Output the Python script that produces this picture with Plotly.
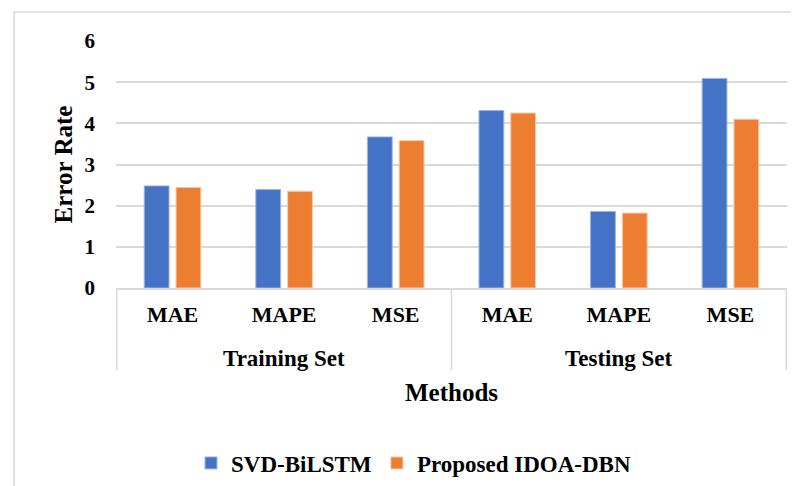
import plotly.graph_objects as go

groups = ["Training Set", "Training Set", "Training Set", "Testing Set", "Testing Set", "Testing Set"]
metrics = ["MAE", "MAPE", "MSE", "MAE", "MAPE", "MSE"]
svd_bilstm = [2.48, 2.39, 3.67, 4.31, 1.86, 5.09]
idoa_dbn = [2.44, 2.35, 3.58, 4.25, 1.82, 4.10]
series_names = ["SVD-BiLSTM", "Proposed IDOA-DBN"]
y_ticks = [0, 1, 2, 3, 4, 5, 6]

FONT = "Liberation Serif, Times New Roman, serif"
GRID = "#d9d9d9"

# unique category ids, shown with metric names
cat_ids = [f"{g}|{m}" for g, m in zip(groups, metrics)]

fig = go.Figure()
fig.add_trace(go.Bar(
    x=cat_ids, y=svd_bilstm, name=series_names[0],
    marker=dict(color="#4472C4", line=dict(color="#9db4e0", width=1)),
))
fig.add_trace(go.Bar(
    x=cat_ids, y=idoa_dbn, name=series_names[1],
    marker=dict(color="#ED7D31", line=dict(color="#f7c9a8", width=1)),
))

# group labels and dividers derived from the group list
annotations = []
shapes = []
group_order = []
for g in groups:
    if g not in group_order:
        group_order.append(g)
divider_depth = -82 / 247  # in paper units below the axis
boundaries = [-0.5]
for g in group_order:
    idx = [i for i, gg in enumerate(groups) if gg == g]
    center = (idx[0] + idx[-1]) / 2
    annotations.append(dict(
        x=center, y=-70 / 247, xref="x", yref="paper", text=g, showarrow=False,
        yanchor="middle", font=dict(family=FONT, size=23, color="black", weight="bold"),
    ))
    boundaries.append(idx[-1] + 0.5)
for b in boundaries:
    shapes.append(dict(type="line", xref="x", yref="paper", x0=b, x1=b, y0=0, y1=divider_depth,
                       line=dict(color=GRID, width=1.5)))

annotations.append(dict(
    x=0.5, y=-104 / 247, xref="paper", yref="paper", text="Methods", showarrow=False,
    yanchor="middle", font=dict(family=FONT, size=25, color="black", weight="bold"),
))

shapes.append(dict(type="rect", xref="paper", yref="paper",
                   x0=-102 / 671, x1=1.05, y0=-1.2, y1=(288 - 12) / 247,
                   line=dict(color="#d9d9d9", width=1.5), fillcolor="rgba(0,0,0,0)", layer="below"))

fig.update_layout(
    width=791, height=478,
    margin=dict(l=108, r=12, t=33, b=198, autoexpand=False),
    paper_bgcolor="white", plot_bgcolor="white",
    barmode="group", bargap=0.43, bargroupgap=0.22,
    font=dict(family=FONT, color="black", size=22),
    showlegend=True,
    legend=dict(orientation="h", x=(191 - 116) / 671, xanchor="left",
                y=-(463 - 288) / 247, yanchor="middle",
                font=dict(family=FONT, size=23, color="black", weight="bold"),
                itemwidth=30, traceorder="normal"),
    annotations=annotations,
    shapes=shapes,
)
fig.update_yaxes(
    range=[0, 6], tickvals=y_ticks, showgrid=True, gridcolor=GRID, gridwidth=1.5,
    zeroline=False, showline=False, automargin=False,
    tickfont=dict(family=FONT, size=21, color="black", weight="bold"),
    ticklabelstandoff=20,
    title=dict(text="Error Rate", font=dict(family=FONT, size=25, color="black", weight="bold"), standoff=4),
)
fig.update_xaxes(
    type="category", tickvals=cat_ids, ticktext=metrics, automargin=False,
    showline=True, linecolor=GRID, linewidth=2, showgrid=False,
    tickfont=dict(family=FONT, size=22, color="black", weight="bold"),
    ticklabelstandoff=6,
)

fig.write_html("out.html")
